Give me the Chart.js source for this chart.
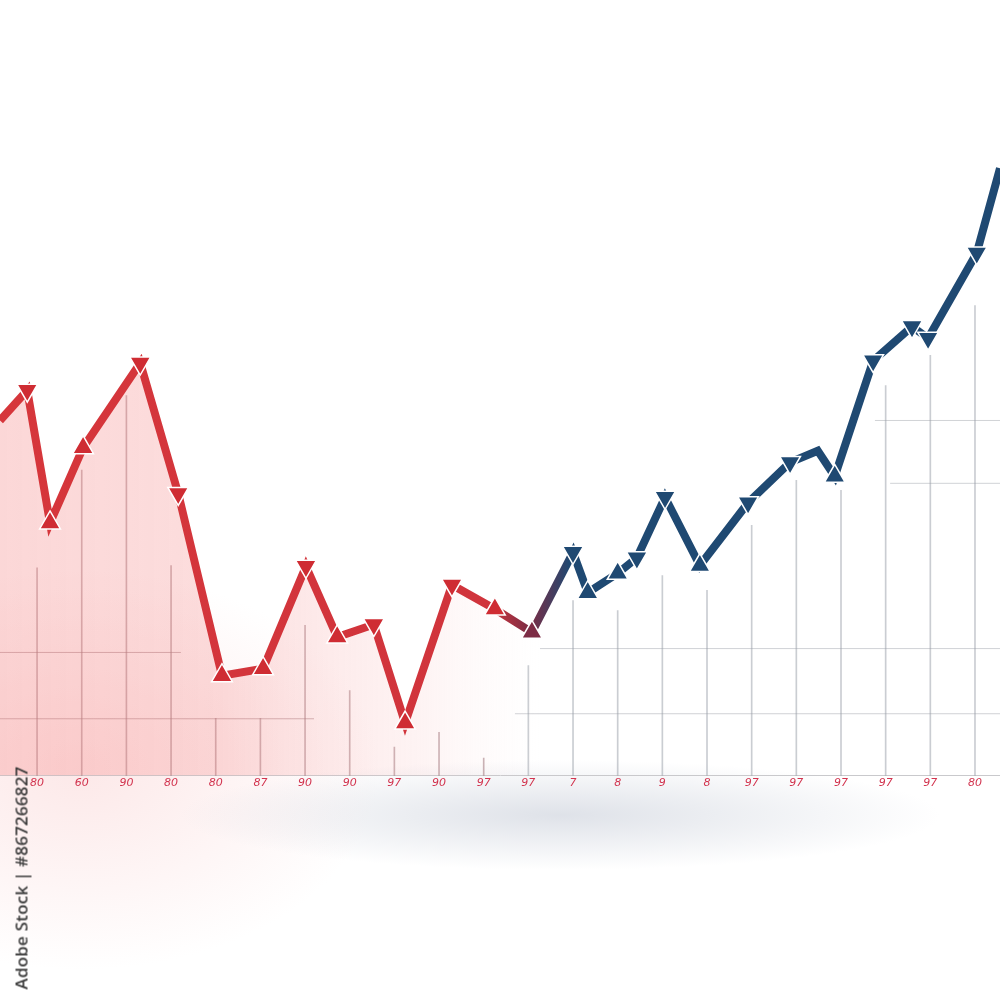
<!DOCTYPE html>
<html>
<head>
<meta charset="utf-8">
<script src="https://cdn.jsdelivr.net/npm/chart.js@4.4.1/dist/chart.umd.min.js"></script>
<style>
  html, body { margin: 0; padding: 0; }
  body {
    width: 1000px; height: 1000px; overflow: hidden; position: relative;
    background:
      radial-gradient(ellipse 380px 55px at 560px 815px, rgba(196,202,214,0.55), rgba(196,202,214,0) 100%),
      radial-gradient(ellipse 300px 200px at 80px 770px, rgba(250,210,210,0.5), rgba(250,210,210,0) 100%),
      #ffffff;
  }
  #wrap { position: absolute; left: 0; top: 0; width: 1000px; height: 1000px; }
  .stockid {
    position: absolute; left: 21px; top: 878px;
    transform: translate(-50%, -50%) rotate(-90deg);
    font-family: "Open Sans", "DejaVu Sans", sans-serif; font-size: 17px; font-weight: 600;
    color: #3a3a3a; white-space: nowrap; letter-spacing: 0.2px;
  }
</style>
</head>
<body>
<div id="wrap"><canvas id="chart" width="1000" height="1000"></canvas></div>
<div class="stockid">Adobe Stock | #867266827</div>
<script>
// ── Data ──────────────────────────────────────────────────────────────────
const tickLabels = ['80','60','90','80','80','87','90','90','97','90','97',
                    '97','7','8','9','8','97','97','97','97','97','80'];

// main price line (x in tick units, y in 0-100 units)
const lineX = [-0.83, -0.22, 0.29, 1.03, 2.31, 3.16, 4.14, 5.06, 6.02, 6.72,
               7.54, 8.24, 9.29, 10.25, 11.08, 12.0, 12.33, 13.0, 13.43, 14.06,
               14.84, 15.92, 16.86, 17.48, 17.86, 18.72, 19.59, 19.95, 21.04, 21.56];
const lineY = [45.8, 49.7, 32.6, 42.3, 53.2, 36.4, 12.9, 13.8, 27.0, 17.9,
               19.5, 6.8, 24.6, 21.5, 18.5, 28.8, 23.6, 26.1, 28.1, 35.9,
               27.1, 35.2, 40.4, 41.9, 38.6, 53.5, 57.9, 56.4, 67.4, 78.3];
// marker direction: 1 = up, -1 = down, 0 = none
const markerDir = [0, -1, 1, 1, -1, -1, 1, 1, -1, 1,
                   -1, 1, -1, 1, 1, -1, 1, 1, -1, -1,
                   1, -1, -1, 0, 1, -1, -1, -1, -1, 0];

// vertical stems at each tick
const stemY = [26.8, 39.4, 49.0, 27.1, 7.4, 7.4, 19.4, 11.0, 3.7, 5.6, 2.3,
               14.2, 22.6, 21.3, 25.8, 23.9, 32.3, 38.1, 36.8, 50.3, 54.2, 60.6];

// short horizontal grid pieces: [y, xFrom, xTo]
const hLines = [
  [15.9, -0.83, 3.22],
  [7.35, -0.83, 6.2],
  [16.4, 11.26, 21.56],
  [8.0, 10.7, 21.56],
  [45.8, 18.76, 21.56],
  [37.7, 19.1, 21.56],
];

const RED = '#d6363b';
const NAVY = '#1f4972';

function strokeGradient(ctx) {
  const area = ctx.chart.chartArea;
  if (!area) return RED;
  const g = ctx.chart.ctx.createLinearGradient(area.left, 0, area.right, 0);
  g.addColorStop(0, RED);
  g.addColorStop(0.49, '#d0343c');
  g.addColorStop(0.53, '#7a2d45');
  g.addColorStop(0.57, NAVY);
  g.addColorStop(1, NAVY);
  return g;
}

function fillGradient(ctx) {
  const area = ctx.chart.chartArea;
  if (!area) return 'rgba(245,140,140,0.2)';
  const g = ctx.chart.ctx.createLinearGradient(area.left, 0, area.right, 0);
  g.addColorStop(0, 'rgba(246,150,150,0.38)');
  g.addColorStop(0.22, 'rgba(246,150,150,0.32)');
  g.addColorStop(0.42, 'rgba(248,190,190,0.18)');
  g.addColorStop(0.54, 'rgba(250,220,220,0)');
  g.addColorStop(1, 'rgba(255,255,255,0)');
  return g;
}

const linePoints = lineX.map((x, i) => ({ x, y: lineY[i] }));
const markerColors = lineX.map(x => x < 10.6 ? '#cf2c33' : (x < 11.5 ? '#7d2c45' : NAVY));

const datasets = [
  {
    type: 'line', label: 'price', data: linePoints, order: 0,
    borderColor: strokeGradient, borderWidth: 8, borderJoinStyle: 'miter',
    backgroundColor: fillGradient, fill: 'origin', tension: 0,
    pointStyle: 'triangle',
    pointRadius: markerDir.map(d => d === 0 ? 0 : 12),
    pointRotation: markerDir.map(d => d < 0 ? 180 : 0),
    pointBackgroundColor: markerColors,
    pointBorderColor: '#ffffff', pointBorderWidth: 1.5,
    clip: false,
  },
  {
    type: 'bar', label: 'stems', order: 2,
    data: stemY.map((y, i) => ({ x: i, y })),
    backgroundColor: stemY.map((_, i) => i < 11 ? 'rgba(150,110,115,0.55)' : 'rgba(150,155,165,0.5)'),
    barThickness: 1, grouped: false,
  },
];
hLines.forEach(([y, a, b], i) => {
  datasets.push({
    type: 'line', label: 'h' + i, order: 3,
    data: [{ x: a, y }, { x: b, y }],
    borderColor: a < 5 ? 'rgba(150,110,115,0.55)' : 'rgba(150,155,165,0.45)',
    borderWidth: 1, pointRadius: 0, fill: false,
  });
});

new Chart(document.getElementById('chart'), {
  type: 'line',
  data: { datasets },
  options: {
    responsive: false, animation: false,
    layout: { autoPadding: false, padding: { left: 0, right: 0, top: 0, bottom: 209 } },
    plugins: { legend: { display: false }, tooltip: { enabled: false } },
    scales: {
      x: {
        type: 'linear', min: -0.83, max: 21.56, offset: false,
        afterBuildTicks: axis => { axis.ticks = tickLabels.map((_, i) => ({ value: i })); },
        afterFit: axis => { axis.paddingLeft = 0; axis.paddingRight = 0; },
        ticks: {
          callback: v => tickLabels[v] ?? '',
          color: '#d2344f', padding: 1, maxRotation: 0, autoSkip: false,
          font: { family: 'DejaVu Sans', size: 11, style: 'italic' },
        },
        grid: { display: false, offset: false, drawTicks: false, tickLength: 0 },
        border: { display: true, color: '#c9c9cc', width: 1 },
      },
      y: { type: 'linear', min: 0, max: 100, display: false },
    },
  },
});
</script>
</body>
</html>
